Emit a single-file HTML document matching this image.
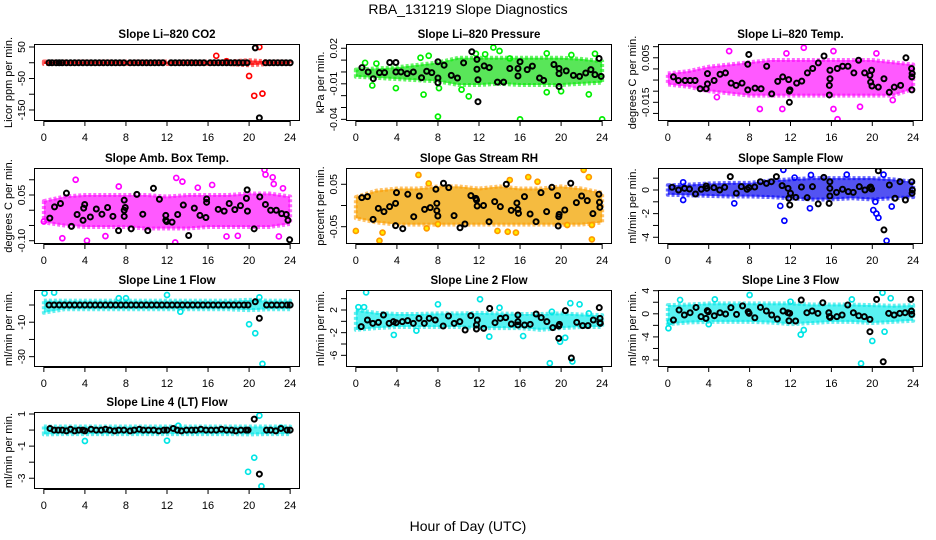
<!DOCTYPE html>
<html><head><meta charset="utf-8"><style>
html,body{margin:0;padding:0;background:#fff;}
svg{display:block;font-family:"Liberation Sans",Arial,sans-serif;}
</style></head><body>
<svg id="chart" width="936" height="540" viewBox="0 0 936 540" xmlns="http://www.w3.org/2000/svg">
<text x="468" y="14" font-size="14" text-anchor="middle">RBA_131219  Slope Diagnostics</text>
<text x="468" y="531" font-size="14" text-anchor="middle">Hour of Day (UTC)</text>
</svg>
<script>
const HOURS=[0,2,4,6,8,10,12,14,16,18,20,22,24];
const XTICKS=[0,4,8,12,16,20,24];

// Panel 1 CO2
const co2Lo=[-4,-4,-4,-4,-4,-4,-4,-4,-4,-4,-8,-4,-4];
const co2Hi=[4,4,4,4,4,4,4,4,4,4,8,4,4];
const co2Color=[[16.8,22],[17.8,5],[20,-42],[20.5,-105],[21,50],[21.3,-98]];
const co2Black=[[0.5,0],[0.8,0],[1.2,0],[1.5,0],[1.8,0],[2.2,0],[2.6,0],[3,0],[3.4,0],[3.8,0],[4.2,0],[4.6,0],[5,0],[5.4,0],[5.8,0],[6.2,0],[6.6,0],[7,0],[7.4,0],[7.8,0],[8.4,0],[8.8,0],[9.2,0],[9.6,0],[10,0],[10.4,0],[10.8,0],[11.2,0],[11.6,0],[12.4,0],[12.8,0],[13.2,0],[13.6,0],[14,0],[14.4,0],[14.8,0],[15.2,0],[15.6,0],[16.2,0],[16.6,0],[17,0],[17.4,0],[17.8,0],[18.2,0],[18.6,0],[19,0],[19.4,0],[19.8,0],[20.6,47],[21,-175],[21.6,0],[22,0],[22.4,0],[22.8,0],[23.2,0],[23.6,0],[24,0]];

// Panel 2 Pressure
const presLo=[-0.004,-0.005,-0.006,-0.007,-0.008,-0.011,-0.011,-0.01,-0.011,-0.011,-0.011,-0.01,-0.009];
const presHi=[0.002,0.003,0.004,0.006,0.008,0.012,0.012,0.012,0.012,0.012,0.012,0.011,0.009];
const presColor=[[0.9,0.0077],[1.6,-0.0114],[2,0.0071],[3.9,-0.0137],[6.3,0.012],[6.6,-0.0191],[7.1,0.0137],[8,-0.0377],[8.1,-0.0137],[10.3,-0.0149],[11,-0.0206],[11.7,0.0154],[12.6,0.0149],[13.4,0.0206],[14,0.0177],[15,0.0114],[16,-0.04],[18.6,0.0157],[18.6,-0.0171],[20,-0.0163],[21,0.0143],[22.7,-0.0189],[23.3,0.0154],[24,-0.04]];
const presBlack=[[0.6,0.0037],[1.2,0],[1.7,-0.0057],[2.3,-0.0006],[2.8,-0.0006],[3.3,0.008],[3.9,0.008],[3.9,0],[4.4,0],[5,-0.0014],[5.6,0],[6.4,-0.0049],[6.9,0.0006],[7.4,-0.0006],[8,0.0086],[8,-0.0051],[8,-0.0091],[8.6,0.0057],[9.3,-0.0029],[9.9,-0.0051],[10.5,0.0077],[11.3,0.0171],[11.8,0.0106],[11.8,0.0023],[11.9,-0.0066],[11.9,-0.0251],[12.5,0.0051],[13,0.0037],[13.8,-0.0086],[14.4,-0.0086],[15,0.0029],[15.8,0.0029],[15.8,-0.0034],[16,0.0086],[16.7,0.002],[17.2,0.0049],[17.9,-0.0051],[18.3,-0.0071],[19.3,0.0063],[19.8,0.0029],[19.8,-0.0014],[19.8,-0.0123],[20.5,0.0009],[21.2,-0.0029],[21.8,-0.0037],[22.4,-0.0009],[22.9,0.002],[23.3,-0.0023],[23.7,0.0114],[23.9,-0.0037]];

// Panel 3 Li-820 Temp
const tempLo=[-0.007,-0.008,-0.010,-0.011,-0.012,-0.012,-0.012,-0.012,-0.012,-0.012,-0.012,-0.012,-0.009];
const tempHi=[-0.002,-0.001,0.001,0.002,0.003,0.004,0.004,0.004,0.004,0.004,0.004,0.003,0.002];
const tempColor=[[6,0.008],[9,-0.018],[11.2,-0.018],[13.3,0.0095],[16.2,-0.018],[16.6,-0.0226],[18.8,-0.017],[20.4,0.007],[16.2,0.008],[11.6,0.007],[4.8,-0.0127],[22,-0.014]];
const tempBlack=[[0.55,-0.0036],[1.04,-0.0052],[1.69,-0.0052],[2.18,-0.0052],[2.67,-0.0052],[3.16,-0.0089],[3.75,-0.0089],[3.88,-0.0021],[3.88,-0.0067],[4.53,-0.0052],[5.11,-0.0024],[5.64,-0.0018],[6.19,-0.0064],[6.68,-0.0074],[7.26,-0.0064],[7.82,-0.0094],[7.82,0.0021],[7.92,0.0065],[8.53,-0.0086],[9.12,-0.0089],[9.67,0.0012],[10.16,-0.0112],[10.75,-0.0056],[11.24,-0.0036],[11.82,-0.0048],[11.89,-0.01],[11.95,-0.0094],[11.89,-0.015],[12.6,-0.0064],[13.1,-0.0055],[13.65,-0.0018],[14.17,0.0002],[14.72,0.0027],[15.28,0.0058],[15.86,-0.0006],[15.86,-0.0044],[15.8,-0.0074],[15.8,-0.0117],[16.58,0.0002],[17.1,0.0012],[17.62,0.0012],[18.2,-0.0018],[18.66,0.0039],[19.25,-0.0018],[19.77,-0.0029],[19.84,-0.0059],[19.93,-0.0006],[19.97,-0.0077],[20.59,-0.0082],[21.14,-0.0044],[21.66,-0.0105],[22.15,-0.0082],[22.77,-0.0074],[23.29,0.005],[23.84,0.0002],[23.9,-0.0021],[23.87,-0.0036],[23.87,-0.0094]];

// Panel 4 Amb Box Temp
const ambLo=[-0.04,-0.05,-0.055,-0.055,-0.055,-0.06,-0.06,-0.06,-0.055,-0.055,-0.055,-0.055,-0.045];
const ambHi=[0.03,0.045,0.05,0.05,0.05,0.05,0.045,0.05,0.05,0.05,0.055,0.055,0.045];
const ambColor=[[3.1,0.1],[4.2,-0.1],[1.8,-0.092],[6,-0.085],[7.3,0.078],[12.9,0.106],[13.5,0.094],[12.8,-0.106],[15,0.074],[16.4,0.083],[21.5,0.133],[21.6,0.117],[22.3,0.108],[22.4,0.086],[22.9,-0.086],[17.8,-0.086],[18.9,-0.084],[23.3,0.072],[0,-0.037]];
const ambBlack=[[0.58,-0.026],[1.04,0.011],[1.62,0.022],[2.2,0.056],[2.69,-0.053],[3.24,-0.014],[3.82,-0.033],[3.88,0.007],[3.98,0.019],[4.53,-0.022],[5.11,0.004],[5.66,-0.013],[6.21,0.009],[6.73,-0.02],[7.28,-0.067],[7.83,-0.02],[7.83,0],[7.93,0.009],[7.83,0.033],[8.51,-0.061],[9.06,0.052],[9.64,-0.013],[10.13,-0.067],[10.68,0.072],[11.26,0.036],[11.88,-0.017],[11.88,-0.033],[11.97,-0.037],[12.49,-0.039],[13.04,-0.014],[13.59,0.017],[14.11,-0.083],[14.66,0.007],[15.21,-0.017],[15.79,-0.024],[15.86,0.026],[15.86,0.037],[16.99,0.003],[17.57,-0.003],[18.06,0.022],[18.61,0.002],[19.16,0.015],[19.74,0.039],[19.81,0.067],[19.84,-0.003],[20.49,-0.061],[21.04,0.044],[21.59,0.019],[22.1,0],[22.65,0],[23.17,-0.011],[23.62,-0.014],[23.79,-0.033],[23.95,-0.097]];

// Panel 5 Gas Stream RH
const rhLo=[-0.03,-0.04,-0.045,-0.045,-0.045,-0.045,-0.045,-0.045,-0.045,-0.045,-0.045,-0.045,-0.04];
const rhHi=[0.02,0.035,0.04,0.04,0.045,0.045,0.04,0.045,0.04,0.04,0.045,0.04,0.03];
const rhColor=[[0,-0.06],[2.3,-0.083],[2.6,-0.064],[6.1,0.072],[7.1,0.052],[6.9,-0.054],[8,-0.044],[16.8,0.067],[17.7,0.056],[22.2,0.084],[22.7,0.067],[23,-0.08],[23,-0.046],[15,0.06],[13.8,-0.06],[14.8,-0.062],[15.6,-0.064],[20.6,-0.046]];
const rhBlack=[[0.58,0.0185],[1.13,0.0209],[1.68,-0.0327],[2.19,-0.0067],[2.74,-0.0146],[3.29,-0.0028],[3.87,0.005],[3.96,0.0303],[3.87,-0.0476],[4.57,-0.0547],[5.06,0.0264],[5.64,-0.0264],[6.19,0.0224],[6.7,-0.0091],[7.25,-0.0051],[7.8,0.0382],[7.89,0.005],[7.89,-0.0122],[7.99,-0.0248],[8.54,0.0524],[9.05,0.0421],[9.57,-0.024],[10.15,-0.0524],[10.63,-0.0437],[11.21,0.0232],[11.69,0.0169],[11.76,0.013],[11.82,-0.0012],[12.44,0],[12.98,-0.0382],[13.53,0.0091],[14.08,-0.0028],[14.66,0.05],[15.14,-0.0114],[15.69,0.006],[15.79,-0.0091],[15.85,-0.0185],[16.43,0.0209],[16.98,-0.0201],[17.56,-0.0382],[18.04,0.0303],[18.59,-0.0146],[19.1,0.0429],[19.65,0.0232],[19.72,-0.0484],[19.78,-0.0264],[19.81,-0.0209],[20.36,-0.0106],[20.94,0.0524],[21.49,0.0067],[22,0.0224],[22.55,0.0114],[23.1,-0.0193],[23.68,0.0264],[23.74,0.0075],[23.78,-0.0043]];

// Panel 6 Sample Flow
const sfLo=[-0.4,-0.45,-0.5,-0.55,-0.55,-0.6,-0.7,-0.8,-0.8,-0.7,-0.8,-0.7,-0.6];
const sfHi=[0.4,0.45,0.55,0.6,0.6,0.8,0.9,1.0,1.0,1.0,1.0,0.9,0.7];
const sfColor=[[1.5,-0.85],[1.5,0.65],[6.5,-1.13],[11.3,1.7],[11.4,-2.6],[11,-1.35],[13.9,-1.55],[17.5,1.3],[20.1,-1.7],[20.4,-2],[20.6,-2.35],[21.4,-4.3],[21.9,-1.4],[21.1,1.3],[20.3,-1],[12.4,1.05],[14,1.27]];
const sfBlack=[[0.42,0.23],[1.05,0],[1.63,0.14],[2.12,0.08],[2.71,-0.34],[3.27,0.06],[3.76,0.34],[3.82,0.14],[4.51,0.2],[5.07,0],[5.56,0.23],[6.11,1.13],[6.7,-0.28],[7.19,0.28],[7.75,0.06],[7.94,0.2],[8.5,0.25],[9.05,0.7],[9.64,0.56],[10.13,0.7],[10.62,1.13],[11.18,0.37],[11.76,0.14],[11.83,-0.7],[11.93,-1.27],[12,-0.28],[12.52,-0.62],[13.07,0.25],[13.63,-0.65],[14.15,0.28],[14.71,-1.18],[15.26,1.07],[15.85,0.7],[15.85,0.14],[15.85,-0.51],[15.78,-1.13],[16.5,-0.2],[17.09,0.06],[17.65,-0.14],[18.14,-0.2],[18.73,0.28],[19.28,0],[19.77,0.2],[19.84,0.25],[19.93,0.08],[20.59,1.63],[21.14,-3.38],[21.67,0.42],[22.22,-0.7],[22.71,0.7],[23.24,-0.85],[23.86,0.7],[23.89,-0.28],[23.92,0]];

// Panel 7 Line 1 Flow
const l1Lo=[-4.5,-2.5,-2.5,-2.5,-2.5,-2.5,-2.5,-2.5,-2.5,-2.5,-3,-2.5,-2.5];
const l1Hi=[2.5,2.5,2.5,2.5,2.5,2.5,2.5,2.5,2.5,2.5,3,2.5,2.5];
const l1Color=[[0.07,6.8],[1,7.2],[12,5.8],[13.3,-3.9],[20,-11.2],[20.6,-16.4],[21,4.4],[21.3,-34.2],[8,3.9],[7.3,3.9]];
const l1Black=[[0.5,0],[1,0],[1.5,0],[2,0],[2.5,0],[3,0],[3.5,0],[4,0],[4.5,0],[5,0],[5.5,0],[6,0],[6.5,0],[7,0],[7.5,0],[8,0],[8.5,0],[9,0],[9.5,0],[10,0],[10.5,0],[11,0],[11.5,0],[12,0],[12.5,0],[13,0],[13.5,0],[14,0],[14.5,0],[15,0],[15.5,0],[16,0],[16.5,0],[17,0],[17.5,0],[18,0],[18.5,0],[19,0],[19.5,0],[19.9,0],[20.6,1.9],[21,-7.7],[21.7,0],[22.2,0],[22.7,0],[23.2,0],[23.7,0],[24,0]];

// Panel 8 Line 2 Flow
const l2Lo=[-1.5,-1.2,-1,-1,-1,-1,-1.2,-1.2,-1.2,-1.5,-1.2,-1,-1];
const l2Hi=[2,1.5,1.3,1.3,1.4,1.4,1.5,1.4,1.3,1.3,1.4,1.2,1.1];
const l2Color=[[1,5.1],[0.25,2.5],[0.8,2.5],[3.7,-2.4],[5.9,-1.65],[8,3],[12.1,3.9],[13,-2.7],[16.3,-2.6],[14,2.4],[18.9,-7.4],[19.9,-3.6],[20.4,-2.9],[20.9,3.2],[21.1,-7.1],[21.8,3],[22.7,1.4],[19.1,1.7]];
const l2Black=[[0.52,-0.94],[1.13,0.24],[1.65,-0.35],[2.2,-0.18],[2.69,1.12],[3.24,-0.35],[3.66,-0.06],[3.92,-0.24],[4.53,-0.06],[5.05,0.12],[5.6,-0.35],[6.15,0.53],[6.67,-0.35],[7.15,0.53],[7.74,0.24],[8.51,-0.82],[9.03,0.94],[9.58,-0.35],[10.13,-0.06],[10.65,-1.53],[11.2,1],[11.75,-0.65],[11.75,-1.35],[11.84,0.24],[12.46,-1.24],[13.04,2.29],[13.56,-0.24],[14.08,0.53],[14.6,0.65],[15.15,-0.47],[15.79,1.12],[15.79,-0.06],[15.79,-0.65],[16.44,-0.65],[16.99,-0.53],[17.57,1.29],[18.06,0.65],[18.61,-0.06],[19.19,-1.12],[19.77,-0.82],[19.77,-3],[19.84,-0.53],[20.42,1.88],[21,-6.47],[21.52,-0.18],[22.1,-0.76],[22.62,-0.76],[23.14,0.24],[23.72,2.41],[23.79,0.53],[23.79,-0.24],[23.82,-0.35]];

// Panel 9 Line 3 Flow
const l3Lo=[-1.8,-1.5,-1.4,-1.4,-1.4,-1.5,-1.8,-1.6,-1.4,-1.4,-1.6,-1.4,-1.2];
const l3Hi=[1.5,1.6,1.8,1.8,1.8,1.8,1.8,1.6,1.6,1.6,1.5,1.4,1.5];
const l3Color=[[0.06,-2.5],[0.2,-1.4],[1.2,2.4],[4.6,2.5],[4,-1.8],[8,3.25],[13,-3.6],[13.3,-2.8],[18,2.5],[20,-4.7],[21,3.65],[21.2,-3.1],[21.8,2.7],[18.9,-8.6],[12,2.1]];
const l3Black=[[0.55,-1.08],[1.1,0.65],[1.62,-0.21],[2.18,0.19],[2.76,1.1],[3.25,-0.5],[3.73,-0.79],[3.86,0.54],[3.96,0.36],[4.55,-0.33],[5.1,0.19],[5.65,-0.04],[6.17,1.07],[6.72,-0.1],[7.31,1.37],[7.86,0.36],[7.95,0.08],[8.51,-0.68],[9.06,1.12],[9.64,0.48],[10.16,-0.21],[10.71,-0.91],[11.27,0.48],[11.75,0.19],[11.85,-1.2],[11.92,0.08],[12.5,-1.25],[13.05,2.38],[13.6,0.19],[14.12,0.48],[14.68,0.08],[15.16,1.92],[15.75,0.19],[15.81,-0.5],[15.88,-0.62],[16.53,-0.5],[17.05,-0.21],[17.6,1.52],[18.15,0.19],[18.67,-0.33],[19.22,-0.5],[19.77,-0.97],[19.77,-3.1],[20.42,2.5],[21.07,-8.3],[21.6,0.08],[22.14,-0.21],[22.69,0.08],[23.21,0.19],[23.77,2.5],[23.83,0.48],[23.86,-0.1]];

// Panel 10 Line 4 (LT) Flow
const l4Lo=[-0.27,-0.25,-0.25,-0.25,-0.25,-0.25,-0.25,-0.25,-0.25,-0.25,-0.27,-0.25,-0.25];
const l4Hi=[0.22,0.22,0.22,0.22,0.22,0.22,0.22,0.22,0.22,0.22,0.22,0.22,0.22];
const l4Color=[[4,-0.68],[12,-0.66],[13.1,0.27],[19.9,-2.6],[20.5,-1.72],[21,0.9],[21.2,-3.5],[23.1,0.15]];
const l4Black=[[0.6,0.1],[1,0],[1.4,0],[1.8,0],[2.2,-0.05],[2.6,0.05],[3,-0.05],[3.4,0],[3.8,0],[4,-0.05],[4.6,0.05],[5.1,0],[5.6,0],[6,0.05],[6.4,0],[6.9,-0.05],[7.3,0],[7.8,0],[8.4,-0.05],[8.8,0],[9.3,0.05],[9.7,0],[10.2,0],[10.7,0],[11.2,-0.05],[11.7,0],[12,0],[12.6,0.1],[13,0],[13.4,-0.05],[13.9,0],[14.4,0],[14.8,0],[15.3,0.05],[15.8,0],[16.3,0],[16.8,0],[17.3,0.05],[17.8,0],[18.3,0],[18.7,-0.05],[19.2,0],[19.7,0],[19.9,0],[20.5,0.68],[21,-2.74],[21.7,0],[22.1,0],[22.6,-0.05],[23.1,0.1],[23.7,0],[24,0]];

const svg=document.getElementById('chart');
const NS='http://www.w3.org/2000/svg';
function mk(tag,attrs,parent){const e=document.createElementNS(NS,tag);for(const k in attrs)e.setAttribute(k,attrs[k]);(parent||svg).appendChild(e);return e;}

const COLS=[{l:34,r:300},{l:346,r:612},{l:658,r:923}];
const ROWS=[{t:44,b:121},{t:168,b:244},{t:290,b:367},{t:412,b:489}];

const panels=[
 {name:'co2',title:'Slope Li\u2013820 CO2',ylab:'Licor ppm per min.',c:0,r:0,ymin:-185,ymax:59.5,ticks:[50,0,-50,-100,-150],labels:['50','-50','-150'],lv:[50,-50,-150],col:'#ff0000',fill:'#ff0000',lo:co2Lo,hi:co2Hi,pts:co2Color,blk:co2Black},
 {name:'pressure',title:'Slope Li\u2013820 Pressure',ylab:'kPa per min.',c:1,r:0,ymin:-0.0414,ymax:0.0236,ticks:[0.02,0.01,0,-0.01,-0.02,-0.03,-0.04],labels:['0.02','-0.01','-0.04'],lv:[0.02,-0.01,-0.04],col:'#00ee00',fill:'#22dd22',lo:presLo,hi:presHi,pts:presColor,blk:presBlack},
 {name:'li820-temp',title:'Slope Li\u2013820 Temp.',ylab:'degrees C per min.',c:2,r:0,ymin:-0.0234,ymax:0.0112,ticks:[0.01,0.005,0,-0.005,-0.01,-0.015,-0.02],labels:['0.005','-0.015'],lv:[0.005,-0.015],col:'#ff00ff',fill:'#ff22ff',lo:tempLo,hi:tempHi,pts:tempColor,blk:tempBlack},
 {name:'amb-box-temp',title:'Slope Amb. Box Temp.',ylab:'degrees C per min.',c:0,r:1,ymin:-0.1108,ymax:0.1386,ticks:[0.1,0.05,0,-0.05,-0.1],labels:['0.05','-0.10'],lv:[0.05,-0.1],col:'#ff00ff',fill:'#ff22ff',lo:ambLo,hi:ambHi,pts:ambColor,blk:ambBlack},
 {name:'gas-stream-rh',title:'Slope Gas Stream RH',ylab:'percent per min.',c:1,r:1,ymin:-0.0908,ymax:0.0884,ticks:[0.05,0,-0.05],labels:['0.05','-0.05'],lv:[0.05,-0.05],col:'#ff9900',fill:'#f2a400',lo:rhLo,hi:rhHi,pts:rhColor,blk:rhBlack},
 {name:'sample-flow',title:'Slope Sample Flow',ylab:'ml/min per min.',c:2,r:1,ymin:-4.57,ymax:1.86,ticks:[1,0,-1,-2,-3,-4],labels:['0','-2','-4'],lv:[0,-2,-4],col:'#0000ff',fill:'#1a1aee',lo:sfLo,hi:sfHi,pts:sfColor,blk:sfBlack},
 {name:'line1-flow',title:'Slope Line 1 Flow',ylab:'ml/min per min.',c:0,r:2,ymin:-36,ymax:8.7,ticks:[0,-10,-20,-30],labels:['-10','-30'],lv:[-10,-30],col:'#00e5e5',fill:'#22eeee',lo:l1Lo,hi:l1Hi,pts:l1Color,blk:l1Black},
 {name:'line2-flow',title:'Slope Line 2 Flow',ylab:'ml/min per min.',c:1,r:2,ymin:-8.06,ymax:5.53,ticks:[4,2,0,-2,-4,-6],labels:['2','-2','-6'],lv:[2,-2,-6],col:'#00e5e5',fill:'#22eeee',lo:l2Lo,hi:l2Hi,pts:l2Color,blk:l2Black},
 {name:'line3-flow',title:'Slope Line 3 Flow',ylab:'ml/min per min.',c:2,r:2,ymin:-9.21,ymax:4.12,ticks:[4,2,0,-2,-4,-6,-8],labels:['4','0','-4','-8'],lv:[4,0,-4,-8],col:'#00e5e5',fill:'#22eeee',lo:l3Lo,hi:l3Hi,pts:l3Color,blk:l3Black},
 {name:'line4-flow',title:'Slope Line 4 (LT) Flow',ylab:'ml/min per min.',c:0,r:3,ymin:-3.67,ymax:1.125,ticks:[1,0,-1,-2,-3],labels:['1','-1','-3'],lv:[1,-1,-3],col:'#00e5e5',fill:'#22eeee',lo:l4Lo,hi:l4Hi,pts:l4Color,blk:l4Black}
];

panels.forEach(p=>{
  const {l,r}=COLS[p.c],{t,b}=ROWS[p.r];
  const X=h=>l+(h+0.96)/25.92*(r-l);
  const Y=v=>b-(v-p.ymin)/(p.ymax-p.ymin)*(b-t);
  const g=mk('g',{});
  
  
  const clip=mk('clipPath',{id:'clip-'+p.name},g);
  mk('rect',{x:l,y:t,width:r-l,height:b-t},clip);
  const pg=mk('g',{'clip-path':'url(#clip-'+p.name+')'},g);
  let pts=HOURS.map((h,i)=>X(h)+','+Y(p.hi[i]));
  pts=pts.concat(HOURS.map((h,i)=>X(h)+','+Y(p.lo[i])).reverse());
  const band=mk('polygon',{points:pts.join(' '),fill:p.fill,'fill-opacity':0.75,stroke:p.col,'stroke-width':4,'stroke-linejoin':'round','stroke-opacity':0.6,'stroke-dasharray':'3 2'},pg);
  
  
  p.pts.forEach(d=>{
    const c=mk('circle',{cx:X(d[0]),cy:Y(d[1]),r:2.5,fill:p.name==='gas-stream-rh'?'#ffee00':'none',stroke:p.col,'stroke-width':1.7},pg);
    
    
  });
  p.blk.forEach(d=>{
    const c=mk('circle',{cx:X(d[0]),cy:Y(d[1]),r:2.5,fill:'none',stroke:'#000','stroke-width':2},pg);
    
    
  });
  const box=mk('rect',{x:l+0.5,y:t+0.5,width:r-l-1,height:b-t-1,fill:'none',stroke:'#000','stroke-width':1},g);
  
  
  const tt=mk('text',{x:(l+r)/2,y:t-6,'font-size':11.5,'font-weight':'bold','text-anchor':'middle'},g);
  tt.textContent=p.title;
  
  
  mk('line',{x1:X(0),x2:X(24),y1:b+0.5,y2:b+0.5,stroke:'#000'},g);
  XTICKS.forEach(h=>{
    mk('line',{x1:X(h),x2:X(h),y1:b,y2:b+5,stroke:'#000'},g);
    const tx=mk('text',{x:X(h),y:b+20,'font-size':11,'text-anchor':'middle'},g);
    tx.textContent=h;
    
    
  });
  mk('line',{x1:l+0.5,x2:l+0.5,y1:Y(p.ticks[0]),y2:Y(p.ticks[p.ticks.length-1]),stroke:'#000'},g);
  p.ticks.forEach(v=>{mk('line',{x1:l-5,x2:l,y1:Y(v),y2:Y(v),stroke:'#000'},g);});
  p.lv.forEach((v,i)=>{
    const ty=mk('text',{x:l-9,y:Y(v),'font-size':10.5,'text-anchor':'middle',transform:'rotate(-90 '+(l-9)+' '+Y(v)+')'},g);
    ty.textContent=p.labels[i];
    
    
  });
  const yl=mk('text',{x:l-22,y:(t+b)/2,'font-size':11,'text-anchor':'middle',transform:'rotate(-90 '+(l-22)+' '+((t+b)/2)+')'},g);
  yl.textContent=p.ylab;
  
  
});
</script>
</body></html>
